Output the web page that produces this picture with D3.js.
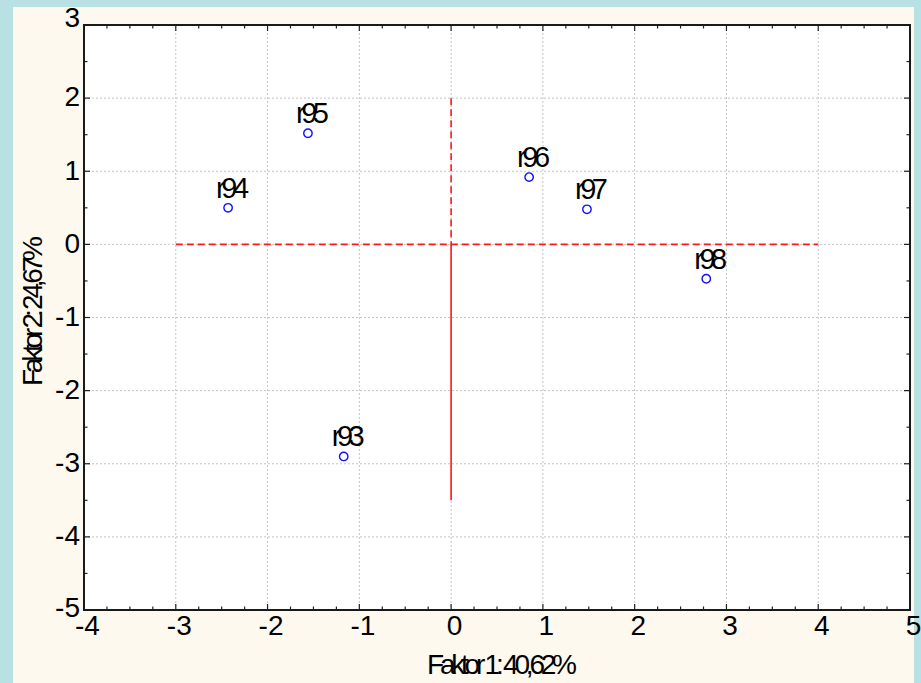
<!DOCTYPE html>
<html>
<head>
<meta charset="utf-8">
<script src="https://cdn.jsdelivr.net/npm/d3@7"></script>
<style>
  html, body { margin: 0; padding: 0; background: #b9e0e3; }
  svg { display: block; }
</style>
</head>
<body>
<div id='chart'></div>
<script>

// Data
const pointLabels = ['r93', 'r94', 'r95', 'r96', 'r97', 'r98'];
const faktor1 = [-1.17, -2.43, -1.56, 0.85, 1.48, 2.78];
const faktor2 = [-2.90, 0.50, 1.52, 0.92, 0.48, -0.47];

const xTicks = [-4, -3, -2, -1, 0, 1, 2, 3, 4, 5];
const yTicks = [-5, -4, -3, -2, -1, 0, 1, 2, 3];
const xTitle = 'Faktor 1: 40,62%';
const yTitle = 'Faktor 2: 24,67%';

// reference lines through origin
const hLineX = [-3, 4];
const vLineDashedY = [2, 0];
const vLineSolidY = [0, -3.5];

// Page Dimensions
const W = 921, H = 683;
const margin = {top: 25, right: 11, bottom: 73, left: 84};
const width = W - margin.left - margin.right;
const height = H - margin.top - margin.bottom;

const fontFamily = '"Liberation Sans", Arial, sans-serif';

const svg = d3.select('#chart').append('svg')
  .attr('width', W)
  .attr('height', H);

// cream panel
svg.append('rect')
  .attr('x', 13).attr('y', 7)
  .attr('width', 901).attr('height', H - 7)
  .attr('fill', '#fef9ef');

const g = svg.append('g')
  .attr('transform', `translate(${margin.left},${margin.top})`);

const x = d3.scaleLinear().domain([-4, 5]).range([0, width]);
const y = d3.scaleLinear().domain([-5, 3]).range([height, 0]);

// plot background
g.append('rect')
  .attr('width', width).attr('height', height)
  .attr('fill', '#ffffff');

// grid lines
g.append('g').selectAll('line')
  .data(xTicks.slice(1, -1))
  .enter().append('line')
  .attr('x1', d => x(d)).attr('x2', d => x(d))
  .attr('y1', 0).attr('y2', height)
  .attr('stroke', '#c4c4c4')
  .attr('stroke-dasharray', '2,2');

g.append('g').selectAll('line')
  .data(yTicks.slice(1, -1))
  .enter().append('line')
  .attr('y1', d => y(d)).attr('y2', d => y(d))
  .attr('x1', 0).attr('x2', width)
  .attr('stroke', '#c4c4c4')
  .attr('stroke-dasharray', '2,2');

// red reference lines
g.append('line')
  .attr('x1', x(hLineX[0])).attr('x2', x(hLineX[1]))
  .attr('y1', y(0)).attr('y2', y(0))
  .attr('stroke', '#ff1a1a')
  .attr('stroke-width', 1.6)
  .attr('stroke-dasharray', '7,4');

g.append('line')
  .attr('x1', x(0)).attr('x2', x(0))
  .attr('y1', y(vLineDashedY[0])).attr('y2', y(vLineDashedY[1]))
  .attr('stroke', '#ff1a1a')
  .attr('stroke-width', 1.6)
  .attr('stroke-dasharray', '7,4');

g.append('line')
  .attr('x1', x(0)).attr('x2', x(0))
  .attr('y1', y(vLineSolidY[0])).attr('y2', y(vLineSolidY[1]))
  .attr('stroke', '#ff1a1a')
  .attr('stroke-width', 1.6);

// minor ticks (inward)
const xMinor = d3.range(-4, 5.001, 0.25);
const yMinor = d3.range(-5, 3.001, 0.5);

const ticksG = g.append('g').attr('stroke', '#222').attr('stroke-width', 1.2);
xMinor.forEach(v => {
  const len = Number.isInteger(v) ? 6 : 3.5;
  ticksG.append('line').attr('x1', x(v)).attr('x2', x(v)).attr('y1', height).attr('y2', height - len);
  ticksG.append('line').attr('x1', x(v)).attr('x2', x(v)).attr('y1', 0).attr('y2', len);
});
yMinor.forEach(v => {
  const len = Number.isInteger(v) ? 6 : 3.5;
  ticksG.append('line').attr('y1', y(v)).attr('y2', y(v)).attr('x1', 0).attr('x2', len);
  ticksG.append('line').attr('y1', y(v)).attr('y2', y(v)).attr('x1', width).attr('x2', width - len);
});

// axes labels (plain hyphen minus, like the original)
const xAxis = g.append('g')
  .attr('transform', `translate(0,${height})`)
  .call(d3.axisBottom(x).tickValues(xTicks).tickSize(0).tickPadding(5).tickFormat(d => String(d)));
xAxis.select('.domain').remove();
xAxis.selectAll('text')
  .attr('font-family', fontFamily)
  .attr('font-size', 28)
  .attr('fill', '#000')
  .attr('dx', 3);

const yAxis = g.append('g')
  .call(d3.axisLeft(y).tickValues(yTicks).tickSize(0).tickPadding(4).tickFormat(d => String(d)));
yAxis.select('.domain').remove();
yAxis.selectAll('text')
  .attr('font-family', fontFamily)
  .attr('font-size', 28)
  .attr('fill', '#000')
  .attr('dy', '0.28em');
yAxis.selectAll('.tick').filter(d => d === 3).select('text').attr('dy', '0.05em');
yAxis.selectAll('.tick').filter(d => d === -5).select('text').attr('dy', '0.22em');

// frame
g.append('rect')
  .attr('width', width).attr('height', height)
  .attr('fill', 'none')
  .attr('stroke', '#1a1a1a')
  .attr('stroke-width', 2);

// axis titles
svg.append('text')
  .attr('x', 427).attr('y', 674)
  .attr('font-family', fontFamily)
  .attr('font-size', 28)
  .attr('textLength', 150)
  .attr('lengthAdjust', 'spacing')
  .text(xTitle);

svg.append('text')
  .attr('transform', 'translate(42,386) rotate(-90)')
  .attr('font-family', fontFamily)
  .attr('font-size', 28)
  .attr('textLength', 150)
  .attr('lengthAdjust', 'spacing')
  .text(yTitle);

// points
const pts = g.append('g').selectAll('g')
  .data(pointLabels)
  .enter().append('g')
  .attr('transform', (d, i) => `translate(${x(faktor1[i])},${y(faktor2[i])})`);

pts.append('circle')
  .attr('r', 4.2)
  .attr('fill', '#fff')
  .attr('stroke', '#1010ff')
  .attr('stroke-width', 1.4);

pts.append('text')
  .text(d => d)
  .attr('x', -12)
  .attr('y', -10)
  .attr('font-family', fontFamily)
  .attr('font-size', 29)
  .attr('textLength', 33)
  .attr('lengthAdjust', 'spacing')
  .attr('fill', '#000');

</script>
</body>
</html>
